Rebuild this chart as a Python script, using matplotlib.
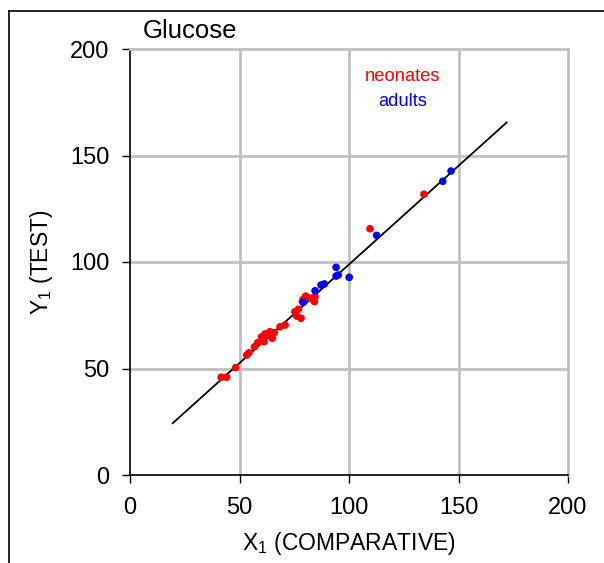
import matplotlib
matplotlib.use("Agg")
import matplotlib.pyplot as plt
from matplotlib.lines import Line2D
import numpy as np

plt.rcParams['font.family'] = ['Liberation Sans', 'DejaVu Sans']
plt.rcParams['mathtext.fontset'] = 'custom'
plt.rcParams['mathtext.rm'] = 'Liberation Sans'
plt.rcParams['mathtext.it'] = 'Liberation Sans'

neonates_x = [41.6, 44.1, 48.2, 53.3, 54.3, 56.8, 58.3, 60.1, 61.6, 63.2, 65.0, 63.9, 65.9,
              68.5, 70.8, 75.3, 76.9, 76.1, 78.1, 79.1, 80.2, 82.2, 84.2, 84.5, 78.7,
              61.2, 109.6, 134.2]
neonates_y = [45.9, 45.9, 50.4, 56.3, 57.4, 60.2, 62.1, 64.9, 66.2, 65.7, 64.2, 67.3, 66.8,
              69.6, 70.4, 76.7, 77.8, 74.6, 73.6, 82.5, 84.0, 83.0, 81.4, 83.7, 81.4,
              62.6, 115.6, 131.8]
adults_x = [79.1, 84.5, 87.2, 88.7, 95.1, 94.1, 94.1, 100.1, 112.6, 142.8, 146.6]
adults_y = [81.1, 86.5, 89.2, 89.7, 93.9, 97.5, 93.4, 92.8, 112.5, 137.9, 142.7]

fit_x = [19.5, 172.0]
fit_slope = 0.926
fit_intercept = 6.25

ticks = [0, 50, 100, 150, 200]

fig = plt.figure(figsize=(6.04, 5.63), dpi=100)
ax = fig.add_axes([130/604, 1-475/563, (568-130)/604, (475-49)/563])

grid_col = '#C0C0C0'
for t in ticks[1:-1]:
    ax.axvline(t, color=grid_col, lw=2, zorder=0)
    ax.axhline(t, color=grid_col, lw=2, zorder=0)

fx = np.array(fit_x)
ax.plot(fx, fit_slope*fx + fit_intercept, color='black', lw=1.3, zorder=2)

ax.scatter(neonates_x, neonates_y, s=30, color='#FF0000', edgecolors='none', zorder=3)
ax.scatter(adults_x, adults_y, s=30, color='#0000FF', edgecolors='none', zorder=3)

ax.set_xlim(0, 200)
ax.set_ylim(0, 200)
ax.set_xticks(ticks)
ax.set_yticks(ticks)
ax.tick_params(axis='both', direction='out', length=6, width=1, labelsize=17, color='black')
ax.tick_params(axis='x', pad=10)
ax.tick_params(axis='y', pad=9)
for s in ['top', 'right']:
    ax.spines[s].set_color(grid_col)
    ax.spines[s].set_linewidth(2)
for s in ['left', 'bottom']:
    ax.spines[s].set_color('black')
    ax.spines[s].set_linewidth(1.2)

ax.set_xlabel(r'X$_1$ (COMPARATIVE)', fontsize=16.5, labelpad=8)
ax.set_ylabel(r'Y$_1$ (TEST)', fontsize=16.5, labelpad=11)

fig.text(143/604, 1-31/563, 'Glucose', fontsize=18.5, ha='left', va='center')
fig.text(403/604, 1-77/563, 'neonates', fontsize=13.2, color='#FF0000', ha='center', va='center')
fig.text(403/604, 1-101/563, 'adults', fontsize=13.2, color='#0000FF', ha='center', va='center')

fig.add_artist(Line2D([9/604, 1.0], [1-11/563, 1-11/563], color='black', lw=1.2, transform=fig.transFigure))
fig.add_artist(Line2D([9/604, 9/604], [0.0, 1-11/563], color='black', lw=1.2, transform=fig.transFigure))

fig.savefig('out.png', dpi=100)
